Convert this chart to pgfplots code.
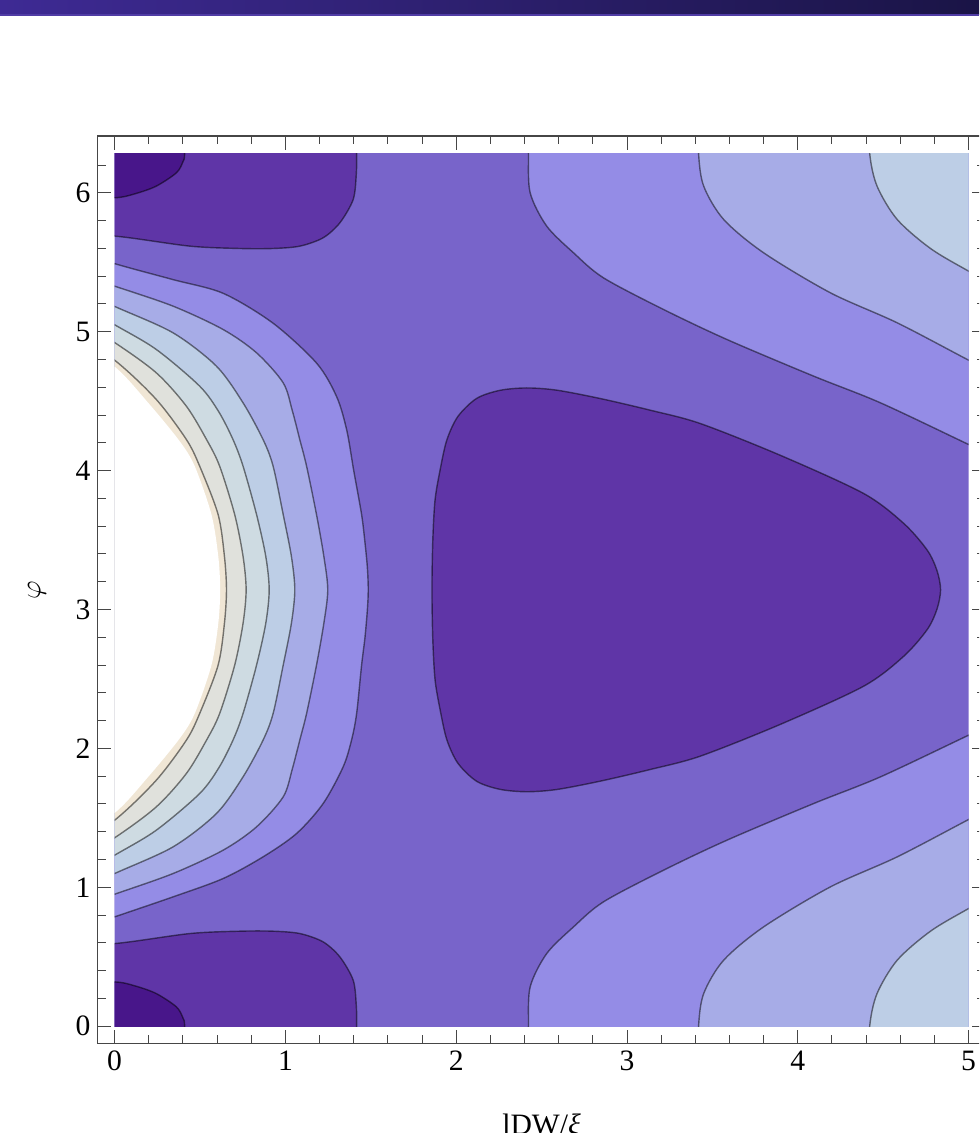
\documentclass[border=0pt]{standalone}
\usepackage{fontspec}
\setmainfont{Liberation Serif}
\usepackage{pgfplots}
\pgfplotsset{compat=1.18}
\definecolor{c1}{RGB}{72,22,138}
\definecolor{c2}{RGB}{95,53,167}
\definecolor{c3}{RGB}{120,100,202}
\definecolor{c4}{RGB}{148,140,230}
\definecolor{c5}{RGB}{167,172,231}
\definecolor{c6}{RGB}{189,206,230}
\definecolor{c7}{RGB}{206,219,226}
\definecolor{c8}{RGB}{224,225,220}
\definecolor{c9}{RGB}{240,230,213}
\definecolor{bandL}{RGB}{62,42,148}
\definecolor{bandR}{RGB}{26,20,70}
\definecolor{bandLine}{RGB}{80,60,165}
\definecolor{framec}{RGB}{70,70,70}
\tikzset{cline/.style={draw=black, draw opacity=0.5, line width=0.7pt}}
\begin{document}
\begin{tikzpicture}[x=1pt,y=1pt]
\path[use as bounding box] (0,0) rectangle (489.5,566.5);
\clip (0,0) rectangle (489.5,566.5);
\shade[left color=bandL, right color=bandR] (0,559) rectangle (489.5,566.5);
\fill[bandLine] (0,558.3) rectangle (489.5,559.3);

\begin{axis}[at={(57.3pt,53.4pt)}, anchor=south west, scale only axis,
  width=427pt, height=436.36pt, xmin=0, xmax=5, ymin=0, ymax=6.283185,
  hide axis, clip=true, no markers]
% base level
\addplot[fill=c3, draw=none] coordinates {(-1,-1) (6,-1) (6,7.5) (-1,7.5)};
% ---- left nested regions ----
\addplot[fill=c4, cline, smooth] coordinates {(-0.3,0.66) (0,0.787) (0.342,0.931) (0.635,1.063) (0.869,1.219) (1.065,1.387) (1.221,1.603) (1.338,1.867) (1.387,2.059) (1.417,2.251) (1.446,2.599) (1.466,2.8) (1.48,3.0) (1.485,3.1416) (1.48,3.3) (1.466,3.48) (1.446,3.684) (1.40,4.0) (1.359,4.292) (1.300,4.532) (1.183,4.773) (0.929,5.060) (0.636,5.276) (0.342,5.375) (0,5.490) (-0.3,5.61)};
\addplot[fill=c5, cline, smooth] coordinates {(-0.3,0.82) (0,0.950) (0.342,1.099) (0.635,1.267) (0.831,1.435) (0.987,1.651) (1.04,1.85) (1.084,2.059) (1.124,2.251) (1.182,2.599) (1.225,2.9) (1.248,3.1416) (1.225,3.383) (1.182,3.684) (1.124,4.032) (1.084,4.224) (1.04,4.433) (0.987,4.632) (0.831,4.848) (0.635,5.016) (0.342,5.184) (0,5.328) (-0.3,5.45)};
\addplot[fill=c6, cline, smooth] coordinates {(-0.3,0.93) (0,1.099) (0.342,1.291) (0.596,1.531) (0.752,1.795) (0.869,2.059) (0.928,2.251) (0.987,2.599) (1.035,2.9) (1.055,3.1416) (1.035,3.383) (0.987,3.684) (0.928,4.032) (0.869,4.224) (0.752,4.488) (0.596,4.752) (0.342,4.992) (0,5.182) (-0.3,5.35)};
\addplot[fill=c7, cline, smooth] coordinates {(-0.3,1.02) (0,1.231) (0.244,1.411) (0.498,1.675) (0.61,1.86) (0.693,2.059) (0.752,2.251) (0.831,2.599) (0.885,2.9) (0.905,3.1416) (0.885,3.383) (0.831,3.684) (0.752,4.032) (0.693,4.224) (0.61,4.423) (0.498,4.608) (0.244,4.872) (0,5.050) (-0.3,5.26)};
\addplot[fill=c8, cline, smooth] coordinates {(-0.3,1.13) (0,1.356) (0.244,1.579) (0.420,1.819) (0.538,2.059) (0.615,2.251) (0.703,2.599) (0.752,2.9) (0.77,3.1416) (0.752,3.383) (0.703,3.684) (0.615,4.032) (0.538,4.224) (0.420,4.464) (0.244,4.704) (0,4.922) (-0.3,5.15)};
\addplot[fill=c9, cline, smooth] coordinates {(-0.3,1.24) (0,1.483) (0.244,1.771) (0.420,2.059) (0.498,2.251) (0.606,2.599) (0.643,2.9) (0.655,3.1416) (0.643,3.383) (0.606,3.684) (0.498,4.032) (0.420,4.224) (0.244,4.512) (0,4.795) (-0.3,5.04)};
\addplot[fill=white, draw=none, smooth] coordinates {(-0.3,1.3) (0,1.535) (0.20,1.80) (0.38,2.07) (0.469,2.251) (0.567,2.599) (0.607,2.9) (0.618,3.1416) (0.607,3.383) (0.567,3.684) (0.469,4.032) (0.38,4.213) (0.20,4.483) (0,4.748) (-0.3,4.98)};
% ---- corners ----
\addplot[fill=c2, cline, smooth] coordinates {(-0.3,-0.3) (-0.3,0.595) (0,0.595) (0.44,0.667) (0.733,0.684) (0.928,0.684) (1.085,0.667) (1.221,0.607) (1.319,0.499) (1.397,0.331) (1.415,0.15) (1.417,0) (1.417,-0.3)};
\addplot[fill=c2, cline, smooth] coordinates {(-0.3,6.58) (-0.3,5.688) (0,5.688) (0.44,5.616) (0.733,5.599) (0.928,5.599) (1.085,5.616) (1.221,5.676) (1.319,5.784) (1.397,5.952) (1.415,6.133) (1.417,6.2832) (1.417,6.58)};
\addplot[fill=c1, cline, smooth] coordinates {(-0.3,-0.3) (-0.3,0.319) (0,0.319) (0.12,0.29) (0.244,0.235) (0.362,0.139) (0.40,0.06) (0.41,0) (0.41,-0.3)};
\addplot[fill=c1, cline, smooth] coordinates {(-0.3,6.58) (-0.3,5.964) (0,5.964) (0.12,5.993) (0.244,6.048) (0.362,6.144) (0.40,6.223) (0.41,6.2832) (0.41,6.58)};
% ---- right regions, lower ----
\addplot[fill=c4, cline, smooth] coordinates {(2.423,-0.3) (2.423,0) (2.433,0.283) (2.530,0.523) (2.687,0.715) (2.862,0.895) (3.214,1.123) (3.585,1.339) (4.093,1.603) (4.484,1.795) (5,2.095) (5.3,2.27) (5.3,-0.3)};
\addplot[fill=c5, cline, smooth] coordinates {(3.419,-0.3) (3.419,0) (3.449,0.235) (3.566,0.475) (3.800,0.715) (4.191,1.003) (4.582,1.219) (5,1.488) (5.3,1.68) (5.3,-0.3)};
\addplot[fill=c6, cline, smooth] coordinates {(4.421,-0.3) (4.421,0) (4.464,0.235) (4.582,0.475) (4.777,0.684) (5,0.847) (5.3,1.05) (5.3,-0.3)};
% ---- right regions, upper ----
\addplot[fill=c4, cline, smooth] coordinates {(2.423,6.5832) (2.423,6.2832) (2.433,6.000) (2.530,5.760) (2.687,5.568) (2.862,5.388) (3.214,5.160) (3.585,4.944) (4.093,4.680) (4.484,4.488) (5,4.188) (5.3,4.013) (5.3,6.5832)};
\addplot[fill=c5, cline, smooth] coordinates {(3.419,6.5832) (3.419,6.2832) (3.449,6.048) (3.566,5.808) (3.800,5.568) (4.191,5.280) (4.582,5.064) (5,4.795) (5.3,4.603) (5.3,6.5832)};
\addplot[fill=c6, cline, smooth] coordinates {(4.421,6.5832) (4.421,6.2832) (4.464,6.048) (4.582,5.808) (4.777,5.599) (5,5.436) (5.3,5.233) (5.3,6.5832)};
% ---- central triangle ----
\addplot[fill=c2, cline, smooth cycle] coordinates {(1.858,3.1416) (1.863,3.5) (1.876,3.787) (1.905,4.0) (1.945,4.22) (2.01,4.39) (2.120,4.520) (2.257,4.578) (2.413,4.595) (2.589,4.579) (2.843,4.519) (3.136,4.435) (3.429,4.339) (3.898,4.110) (4.386,3.835) (4.62,3.62) (4.758,3.427) (4.815,3.28) (4.836,3.1416) (4.815,3.003) (4.758,2.856) (4.62,2.663) (4.386,2.448) (3.898,2.173) (3.429,1.944) (3.136,1.848) (2.843,1.764) (2.589,1.704) (2.413,1.688) (2.257,1.705) (2.120,1.763) (2.01,1.893) (1.945,2.063) (1.905,2.283) (1.876,2.496) (1.863,2.783)};
\end{axis}

\begin{axis}[at={(48.76pt,44.675pt)}, anchor=south west, scale only axis,
  width=444.08pt, height=453.82pt,
  xmin=-0.1, xmax=5.1, ymin=-0.125664, ymax=6.408849,
  xtick={0,1,2,3,4,5}, ytick={0,1,2,3,4,5,6},
  minor xtick={0.2,0.4,0.6,0.8,1.2,1.4,1.6,1.8,2.2,2.4,2.6,2.8,3.2,3.4,3.6,3.8,4.2,4.4,4.6,4.8},
  minor ytick={0.2,0.4,0.6,0.8,1.2,1.4,1.6,1.8,2.2,2.4,2.6,2.8,3.2,3.4,3.6,3.8,4.2,4.4,4.6,4.8,5.2,5.4,5.6,5.8,6.2},
  tick align=inside, major tick length=6.8pt, minor tick length=4.2pt,
  axis line style={framec, line width=0.6pt},
  every tick/.style={framec, line width=0.5pt},
  tick label style={font=\fontsize{14.8}{17}\selectfont, black},
  /pgf/number format/assume math mode=true,
  xlabel={lDW/\textit{ξ}}, ylabel={$\varphi$},
  every axis x label/.style={at={(axis description cs:0.5,0)}, anchor=north, yshift=-31.8pt, font=\fontsize{14.8}{17}\selectfont},
  every axis y label/.style={at={(axis description cs:-0.0681,0.5)}, anchor=center, rotate=90, font=\fontsize{14.8}{17}\selectfont},
  clip=false]
\end{axis}
\end{tikzpicture}
\end{document}
